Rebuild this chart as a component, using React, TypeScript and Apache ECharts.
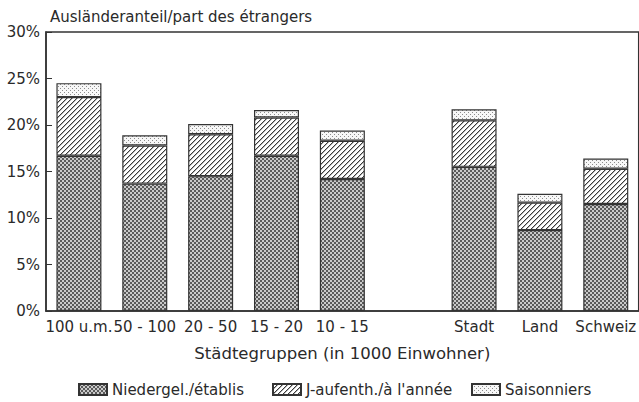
import React, { useEffect, useRef } from 'react';
import * as echarts from 'echarts';

const categories = ['100 u.m.', '50 - 100', '20 - 50', '15 - 20', '10 - 15', '', 'Stadt', 'Land', 'Schweiz'];
const niedergelassene = [16.7, 13.7, 14.5, 16.7, 14.2, null, 15.5, 8.7, 11.5];
const jahresaufenthalter = [6.3, 4.1, 4.5, 4.1, 4.1, null, 5.0, 2.95, 3.8];
const saisonniers = [1.5, 1.1, 1.1, 0.8, 1.1, null, 1.2, 0.95, 1.1];
const seriesNames = ['Niedergel./établis', "J-aufenth./à l'année", 'Saisonniers'];
const titleText = 'Ausländeranteil/part des étrangers';
const xAxisName = 'Städtegruppen (in 1000 Einwohner)';
const yMin = 0;
const yMax = 30;
const yStep = 5;

const FONT = 'DejaVu Sans';
const INK = '#2a2a2a';

function makeTile(size: number, draw: (ctx: CanvasRenderingContext2D) => void) {
  const c = document.createElement('canvas');
  c.width = size;
  c.height = size;
  const ctx = c.getContext('2d')!;
  draw(ctx);
  return c;
}

function crossTile() {
  return makeTile(4, (ctx) => {
    ctx.fillStyle = '#cacaca';
    ctx.fillRect(0, 0, 4, 4);
    ctx.fillStyle = '#5a5a5a';
    ctx.fillRect(0, 0, 2, 2);
    ctx.fillRect(2, 2, 2, 2);
  });
}

function hatchTile() {
  const n = 5;
  return makeTile(n, (ctx) => {
    ctx.fillStyle = '#ffffff';
    ctx.fillRect(0, 0, n, n);
    for (let i = 0; i < n; i++) {
      ctx.fillStyle = '#3a3a3a';
      ctx.fillRect(i, n - 1 - i, 1, 1);
      ctx.fillStyle = '#b4b4b4';
      ctx.fillRect(i, (n - i) % n, 1, 1);
    }
  });
}

function dotTile() {
  return makeTile(4, (ctx) => {
    ctx.fillStyle = '#f7f7f7';
    ctx.fillRect(0, 0, 4, 4);
    ctx.fillStyle = '#8c8c8c';
    ctx.fillRect(0, 0, 1, 1);
    ctx.fillRect(2, 2, 1, 1);
  });
}

export default function App() {
  const ref = useRef<HTMLDivElement>(null);
  useEffect(() => {
    if (!ref.current) return;
    const chart = echarts.init(ref.current, null, { renderer: 'svg' });
    const patterns = [crossTile(), hatchTile(), dotTile()];
    const values = [niedergelassene, jahresaufenthalter, saisonniers];
    const legendLeft = [73, 267, 466];
    chart.setOption({
      animation: false,
      backgroundColor: '#ffffff',
      title: {
        text: titleText,
        left: 45,
        top: 4,
        textStyle: { fontFamily: FONT, fontSize: 15, fontWeight: 'normal', color: INK },
      },
      grid: {
        left: 46,
        right: -3,
        top: 32,
        bottom: 91,
        show: true,
        borderColor: '#333',
        borderWidth: 1.5,
        backgroundColor: 'transparent',
      },
      legend: seriesNames.map((n, i) => ({
        data: [n],
        left: legendLeft[i],
        top: 377,
        icon: 'rect',
        itemWidth: 28,
        itemHeight: 11,
        itemGap: 4,
        selectedMode: false,
        textStyle: { fontFamily: FONT, fontSize: 15, color: INK },
      })),
      xAxis: {
        type: 'category',
        data: categories,
        name: xAxisName,
        nameLocation: 'middle',
        nameGap: 34,
        nameTextStyle: { fontFamily: FONT, fontSize: 16.5, color: INK },
        axisLine: { lineStyle: { color: '#333', width: 1.5 } },
        axisTick: { alignWithLabel: true, inside: true, length: 5, lineStyle: { color: '#333' } },
        axisLabel: { fontFamily: FONT, fontSize: 15, color: INK, margin: 8, interval: 0 },
      },
      yAxis: {
        type: 'value',
        min: yMin,
        max: yMax,
        interval: yStep,
        axisLine: { show: true, lineStyle: { color: '#333', width: 1.5 } },
        axisTick: { show: true, inside: true, length: 6, lineStyle: { color: '#333' } },
        splitLine: { show: false },
        axisLabel: { formatter: '{value}%', fontFamily: FONT, fontSize: 15, color: INK, margin: 6 },
      },
      series: seriesNames.map((n, i) => ({
        name: n,
        type: 'bar',
        stack: 'total',
        barWidth: 45,
        data: values[i],
        itemStyle: {
          color: { image: patterns[i], repeat: 'repeat' },
          borderColor: '#333',
          borderWidth: 1.2,
        },
      })),
    });
    return () => chart.dispose();
  }, []);
  return <div ref={ref} style={{ width: 639, height: 402, position: 'absolute', left: 0, top: 0 }} />;
}
